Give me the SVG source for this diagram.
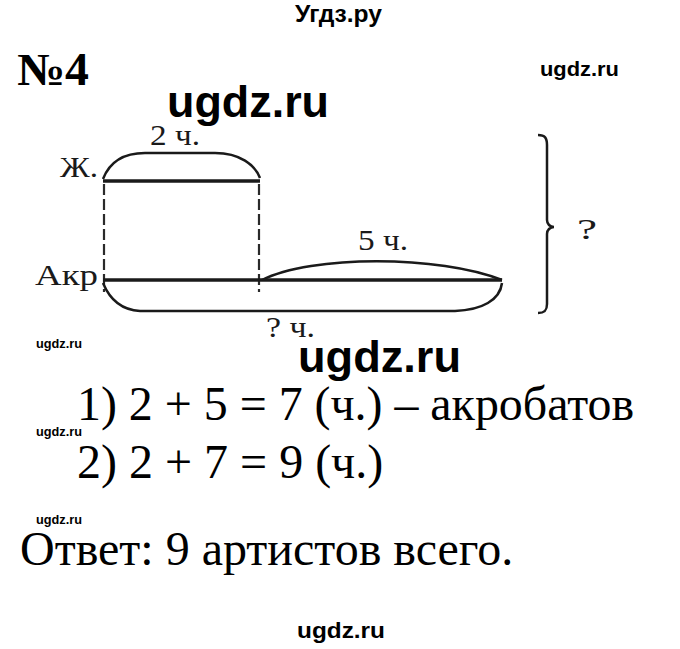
<svg xmlns="http://www.w3.org/2000/svg" width="680" height="649" viewBox="0 0 680 649">
<style>
.wm{font-family:"Liberation Sans",Arial,sans-serif;font-weight:bold;fill:#000}
.sr{font-family:"Liberation Serif","Times New Roman",serif;fill:#000}
.lbl{font-family:"Liberation Serif","Times New Roman",serif;fill:#1a1a1a;font-size:29px}
.bar{stroke:#1a1a1a;stroke-width:3.5;fill:none;stroke-linecap:butt}
.arc{stroke:#1a1a1a;stroke-width:2.5;fill:none}
.dash{stroke:#2a2a2a;stroke-width:2.2;fill:none;stroke-dasharray:11 4}
</style>
<rect width="680" height="649" fill="#fff"/>
<text class="wm" x="295" y="22" font-size="23" textLength="87" lengthAdjust="spacingAndGlyphs">Угдз.ру</text>
<text class="sr" x="17" y="85" font-size="46" font-weight="bold" textLength="72" lengthAdjust="spacingAndGlyphs">№4</text>
<text class="wm" x="540" y="76" font-size="21" textLength="79" lengthAdjust="spacingAndGlyphs">ugdz.ru</text>
<text class="wm" x="167" y="117" font-size="44" textLength="162" lengthAdjust="spacingAndGlyphs">ugdz.ru</text>

<g id="connectors">
<path class="dash" d="M104,184 V292"/>
<path class="dash" d="M259,184 V292"/>
<path class="arc" d="M103,179 C110,161 125,153 145,153 L215,153 C240,153 255,165 260,178"/>
<path class="arc" d="M262,280 C310,255 440,255 502,280"/>
<path class="arc" d="M103,283 C110,300 122,310 140,311 L455,311 C482,310 500,300 502,283"/>
<path class="arc" stroke-width="2" d="M538,135 C545,135 547,138 547,145 L547,220 C547,224 550,227 554,227 C550,227 547,230 547,234 L547,304 C547,310 545,313 538,313"/>
</g>

<g id="node-zh">
<path class="bar" d="M103,181 H260"/>
<text class="lbl" x="60" y="177" textLength="38" lengthAdjust="spacingAndGlyphs">Ж.</text>
<text class="lbl" x="150" y="145" textLength="50" lengthAdjust="spacingAndGlyphs">2 ч.</text>
</g>
<g id="node-akr">
<path class="bar" d="M103,280 H502"/>
<text class="lbl" x="35" y="285" textLength="63" lengthAdjust="spacingAndGlyphs">Акр</text>
<text class="lbl" x="358" y="250" textLength="50" lengthAdjust="spacingAndGlyphs">5 ч.</text>
<text class="lbl" x="266" y="337" textLength="49" lengthAdjust="spacingAndGlyphs">? ч.</text>
</g>
<g id="node-total">
<text class="lbl" x="577" y="239" font-size="32" textLength="20" lengthAdjust="spacingAndGlyphs">?</text>
</g>

<text class="wm" x="36" y="348" font-size="13" textLength="46" lengthAdjust="spacingAndGlyphs">ugdz.ru</text>
<text class="wm" x="298" y="372" font-size="44" textLength="163" lengthAdjust="spacingAndGlyphs">ugdz.ru</text>
<text class="sr" x="77" y="420" font-size="48" textLength="557" lengthAdjust="spacingAndGlyphs">1) 2 + 5 = 7 (ч.) – акробатов</text>
<text class="wm" x="36" y="436" font-size="13" textLength="46" lengthAdjust="spacingAndGlyphs">ugdz.ru</text>
<text class="sr" x="77" y="478" font-size="48">2) 2 + 7 = 9 (ч.)</text>
<text class="wm" x="36" y="524" font-size="13" textLength="46" lengthAdjust="spacingAndGlyphs">ugdz.ru</text>
<text class="sr" x="20" y="565" font-size="48">Ответ: 9 артистов всего.</text>
<text class="wm" x="297" y="638" font-size="22" textLength="88" lengthAdjust="spacingAndGlyphs">ugdz.ru</text>
</svg>
